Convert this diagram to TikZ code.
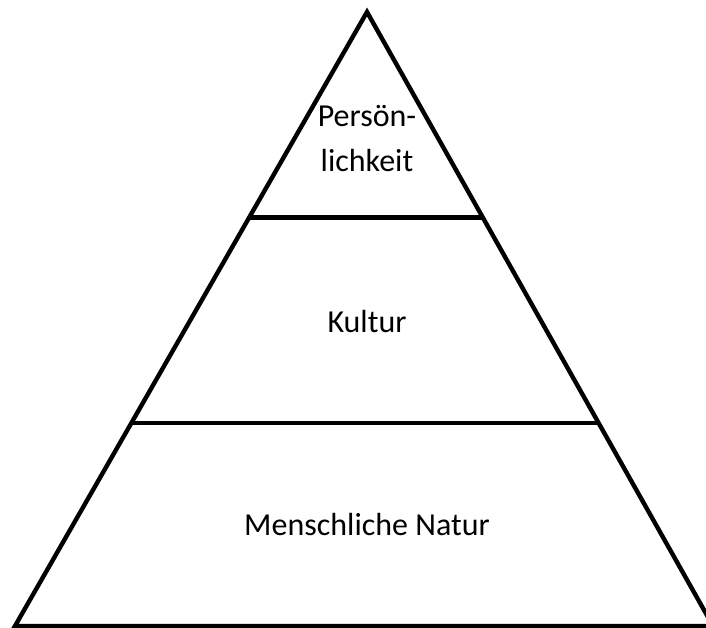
\documentclass[tikz,border=0pt]{standalone}
\usepackage{fontspec}
\setmainfont{Carlito}
\usetikzlibrary{calc,positioning}

\begin{document}
\begin{tikzpicture}[x=1pt,y=-1pt,line width=4.4pt,
  layertext/.style={font=\fontsize{32}{40}\selectfont,anchor=base}]
  \useasboundingbox (0,0) rectangle (706,628);
  \clip (0,0) rectangle (706,628);
  % Pyramid outline
  \coordinate (T) at (367,12);
  \coordinate (A) at (15,626);
  \coordinate (B) at (713,626);
  \draw[line join=miter] (A)--(T)--(B)--cycle;
  % Layer separators
  \coordinate (P) at ($ (T)!0.3347!(A) $);
  \coordinate (Q) at ($ (T)!0.3347!(B) $);
  \draw (P)--(Q);
  \coordinate (R) at ($ (T)!0.669!(A) $);
  \coordinate (S) at ($ (T)!0.669!(B) $);
  \draw (R)--(S);
  % Layer labels
  \node[layertext] (pers) at (367,127) {Persön-};
  \node[layertext] (lich) at (367,172) {lichkeit};
  \node[layertext] (kult) at (367,332) {Kultur};
  \node[layertext] (natur) at (367,535) {Menschliche Natur};
\end{tikzpicture}
\end{document}
